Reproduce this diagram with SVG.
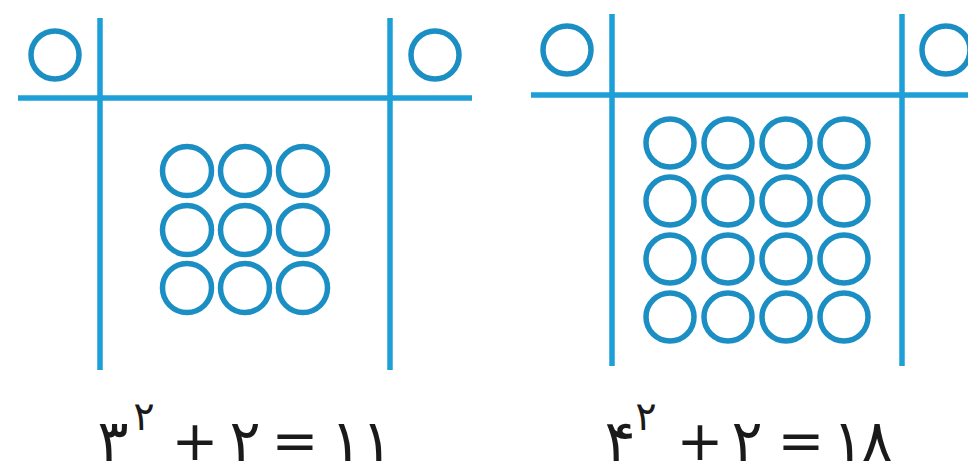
<svg xmlns="http://www.w3.org/2000/svg" width="968" height="476" viewBox="0 0 968 476">
<style>
.ln{stroke:#1e9fd8;stroke-width:5.5;stroke-linecap:butt;fill:none}
.c{stroke:#1b8fc4;stroke-width:5.5;fill:none}
.d{font-family:"DejaVu Sans",sans-serif;fill:#1a1a1a;text-anchor:middle}
.m{font-size:58px}
.s{font-size:40px}
.o{font-size:56px}
</style>
<rect width="968" height="476" fill="#ffffff"/>
<g id="figure-left">
<line class="ln" x1="18" y1="98" x2="472" y2="98"/>
<line class="ln" x1="100" y1="18" x2="100" y2="370"/>
<line class="ln" x1="390" y1="18" x2="390" y2="370"/>
<circle class="c" cx="55" cy="55" r="24"/>
<circle class="c" cx="435" cy="55" r="24"/>
<g id="grid-3x3">
<circle class="c" cx="187" cy="171" r="24.5"/>
<circle class="c" cx="245" cy="171" r="24.5"/>
<circle class="c" cx="303" cy="171" r="24.5"/>
<circle class="c" cx="187" cy="230" r="24.5"/>
<circle class="c" cx="245" cy="230" r="24.5"/>
<circle class="c" cx="303" cy="230" r="24.5"/>
<circle class="c" cx="187" cy="288" r="24.5"/>
<circle class="c" cx="245" cy="288" r="24.5"/>
<circle class="c" cx="303" cy="288" r="24.5"/>
</g>
<g id="formula-left">
<text class="d m" x="113" y="461">۳</text>
<text class="d s" x="144" y="430">۲</text>
<text class="d o" x="195" y="460">+</text>
<text class="d m" x="245" y="461">۲</text>
<text class="d o" x="295" y="460">=</text>
<text class="d m" x="346" y="461">۱</text>
<text class="d m" x="377" y="461">۱</text>
</g>
</g>
<g id="figure-right">
<line class="ln" x1="531" y1="95" x2="968" y2="95"/>
<line class="ln" x1="612" y1="14" x2="612" y2="366"/>
<line class="ln" x1="902" y1="14" x2="902" y2="366"/>
<circle class="c" cx="567" cy="50" r="24"/>
<circle class="c" cx="946" cy="50" r="24"/>
<g id="grid-4x4">
<circle class="c" cx="670" cy="143" r="24"/>
<circle class="c" cx="728" cy="143" r="24"/>
<circle class="c" cx="786" cy="143" r="24"/>
<circle class="c" cx="844" cy="143" r="24"/>
<circle class="c" cx="670" cy="201" r="24"/>
<circle class="c" cx="728" cy="201" r="24"/>
<circle class="c" cx="786" cy="201" r="24"/>
<circle class="c" cx="844" cy="201" r="24"/>
<circle class="c" cx="670" cy="259" r="24"/>
<circle class="c" cx="728" cy="259" r="24"/>
<circle class="c" cx="786" cy="259" r="24"/>
<circle class="c" cx="844" cy="259" r="24"/>
<circle class="c" cx="670" cy="317" r="24"/>
<circle class="c" cx="728" cy="317" r="24"/>
<circle class="c" cx="786" cy="317" r="24"/>
<circle class="c" cx="844" cy="317" r="24"/>
</g>
<g id="formula-right">
<text class="d m" x="620" y="461">۴</text>
<text class="d s" x="646" y="430">۲</text>
<text class="d o" x="700" y="460">+</text>
<text class="d m" x="747" y="461">۲</text>
<text class="d o" x="801" y="460">=</text>
<text class="d m" x="848" y="461">۱</text>
<text class="d m" x="877" y="461">۸</text>
</g>
</g>
</svg>
